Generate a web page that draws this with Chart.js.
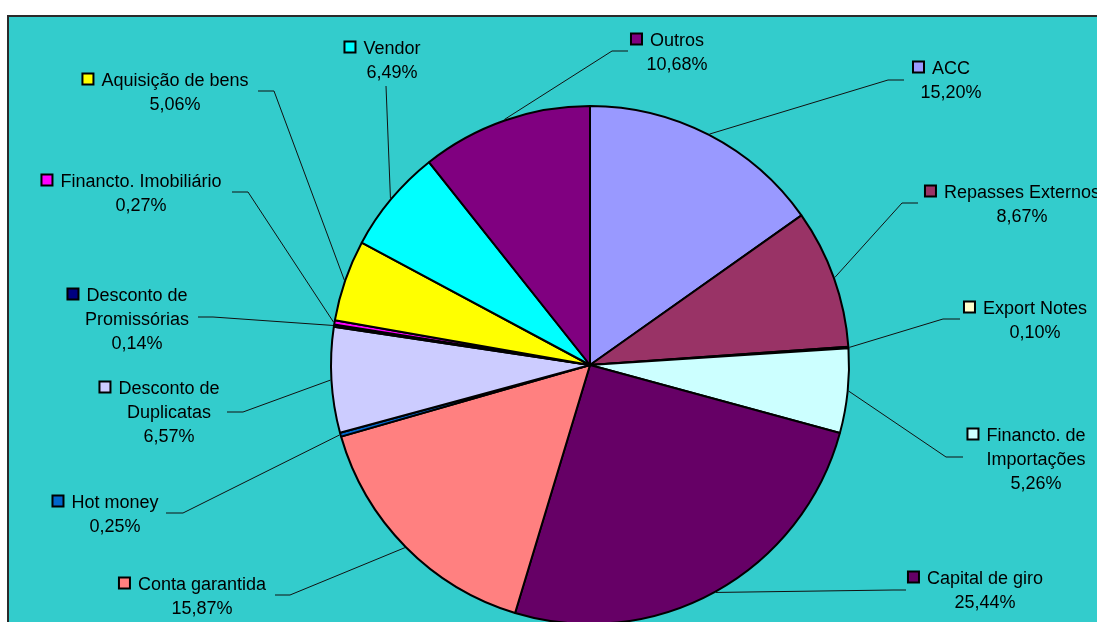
<!DOCTYPE html>
<html>
<head>
<meta charset="utf-8">
<script src="https://cdn.jsdelivr.net/npm/chart.js@4/dist/chart.umd.min.js"></script>
<style>
  html, body { margin: 0; padding: 0; background: #fff; overflow: hidden; }
  #wrap { width: 1097px; height: 622px; overflow: hidden; }
</style>
</head>
<body>
<div id="wrap"><canvas id="pie" width="1097" height="640"></canvas></div>
<script>
// categories (\n = line break in the label)
const categories = [
  'ACC', 'Repasses Externos', 'Export Notes', 'Financto. de\nImportações',
  'Capital de giro', 'Conta garantida', 'Hot money', 'Desconto de\nDuplicatas',
  'Desconto de\nPromissórias', 'Financto. Imobiliário', 'Aquisição de bens',
  'Vendor', 'Outros'
];
const shares = [15.20, 8.67, 0.10, 5.26, 25.44, 15.87, 0.25, 6.57, 0.14, 0.27, 5.06, 6.49, 10.68];
const sliceColors = [
  '#9999FF', '#993366', '#FFFFCC', '#CCFFFF', '#660066', '#FF8080', '#0066CC',
  '#CCCCFF', '#000080', '#FF00FF', '#FFFF00', '#00FFFF', '#800080'
];

// label layout: text centre x, first line middle y, leader elbow (bx,by), leader end x
const LABEL_POS = [
  { tx: 951,  ty: 67,  bx: 888, by: 80,  ex: 904 },
  { tx: 1022, ty: 191, bx: 902, by: 203, ex: 918 },
  { tx: 1035, ty: 307, bx: 943, by: 319, ex: 960 },
  { tx: 1036, ty: 434, bx: 946, by: 457, ex: 963 },
  { tx: 985,  ty: 577, bx: 893, by: 590, ex: 906 },
  { tx: 202,  ty: 583, bx: 290, by: 595, ex: 275 },
  { tx: 115,  ty: 501, bx: 183, by: 513, ex: 166 },
  { tx: 169,  ty: 387, bx: 243, by: 412, ex: 227 },
  { tx: 137,  ty: 294, bx: 213, by: 317, ex: 198 },
  { tx: 141,  ty: 180, bx: 248, by: 192, ex: 232 },
  { tx: 175,  ty: 79,  bx: 274, by: 91,  ex: 258 },
  { tx: 392,  ty: 47,  bx: 386, by: 86,  ex: 386 },
  { tx: 677,  ty: 39,  bx: 612, by: 51,  ex: 628 },
];

const FONT = '18px "Liberation Sans", Arial, sans-serif';
const LINE_H = 24;

function fmtPct(v) {
  return v.toFixed(2).replace('.', ',') + '%';
}

const framePlugin = {
  id: 'frame',
  beforeDraw(chart) {
    const ctx = chart.ctx;
    ctx.save();
    ctx.fillStyle = '#ffffff';
    ctx.fillRect(0, 0, chart.width, chart.height);
    ctx.fillStyle = '#33CCCC';
    ctx.fillRect(8, 16, chart.width, chart.height);
    ctx.strokeStyle = '#2a2a2a';
    ctx.lineWidth = 2;
    ctx.beginPath();
    ctx.moveTo(8, chart.height);
    ctx.lineTo(8, 16);
    ctx.lineTo(chart.width, 16);
    ctx.stroke();
    ctx.restore();
  }
};

const labelPlugin = {
  id: 'pieLabels',
  afterDatasetsDraw(chart) {
    const ctx = chart.ctx;
    const arcs = chart.getDatasetMeta(0).data;
    ctx.save();
    ctx.font = FONT;
    ctx.fillStyle = '#000';
    ctx.textAlign = 'center';
    ctx.textBaseline = 'alphabetic';

    arcs.forEach((arc, i) => {
      const pos = LABEL_POS[i];
      const { x, y, startAngle, endAngle, outerRadius } = arc.getProps(['x', 'y', 'startAngle', 'endAngle', 'outerRadius'], true);
      const mid = (startAngle + endAngle) / 2;
      const sx = x + Math.cos(mid) * (outerRadius + 1);
      const sy = y + Math.sin(mid) * (outerRadius + 1);

      // leader line
      ctx.strokeStyle = '#111';
      ctx.lineWidth = 1;
      ctx.beginPath();
      ctx.moveTo(sx, sy);
      ctx.lineTo(pos.bx, pos.by);
      ctx.lineTo(pos.ex, pos.by);
      ctx.stroke();

      // text block
      const lines = categories[i].split('\n').concat(fmtPct(shares[i]));
      lines.forEach((ln, k) => {
        ctx.fillText(ln, pos.tx, pos.ty + 6.5 + k * LINE_H);
      });

      // colour marker left of first line
      const w = ctx.measureText(lines[0]).width;
      const mx = pos.tx - w / 2 - 8 - 11;
      ctx.fillStyle = sliceColors[i];
      ctx.fillRect(mx, pos.ty - 5.5, 11, 11);
      ctx.strokeStyle = '#000';
      ctx.lineWidth = 2;
      ctx.strokeRect(mx, pos.ty - 5.5, 11, 11);
      ctx.fillStyle = '#000';
    });
    ctx.restore();
  }
};

new Chart(document.getElementById('pie'), {
  type: 'pie',
  data: {
    labels: categories,
    datasets: [{
      data: shares,
      backgroundColor: sliceColors,
      borderColor: '#000',
      borderWidth: 2,
      hoverOffset: 0,
    }]
  },
  options: {
    responsive: false,
    animation: false,
    events: [],
    layout: { padding: { left: 330, right: 247, top: 104, bottom: 14 } },
    plugins: {
      legend: { display: false },
      tooltip: { enabled: false },
    }
  },
  plugins: [framePlugin, labelPlugin]
});
</script>
</body>
</html>
